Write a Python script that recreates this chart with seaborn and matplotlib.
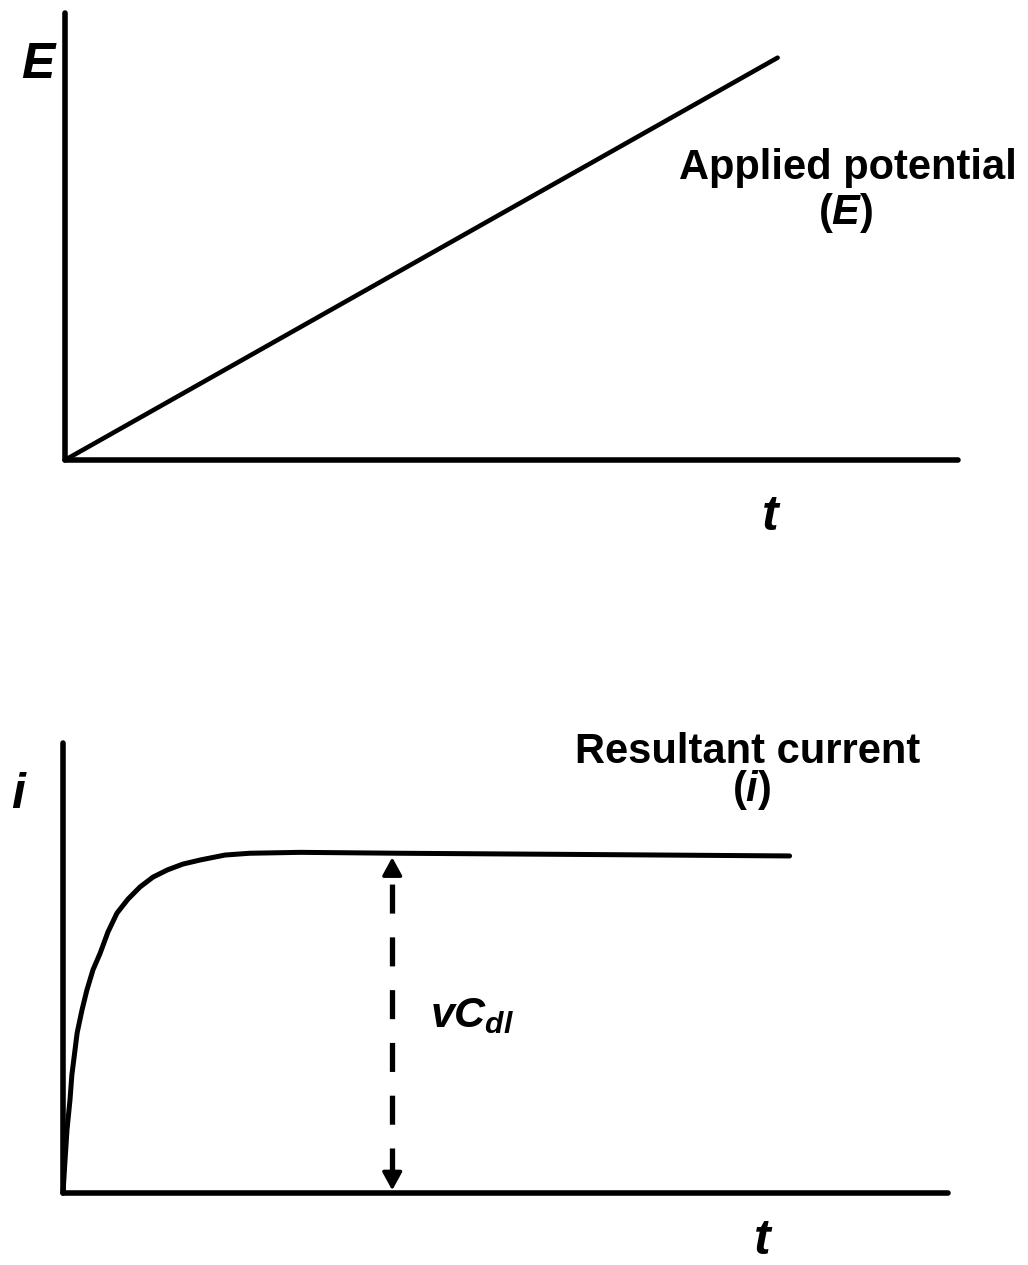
import matplotlib
matplotlib.use("Agg")
import matplotlib.pyplot as plt
import seaborn as sns
import numpy as np
import pandas as pd

# ---- data (normalised schematic units) ----
t_applied = [0.0, 0.798]
E_applied = [0.0, 0.900]

t_current = [0.0, 0.0023, 0.0045, 0.0079, 0.010, 0.016, 0.0215, 0.027, 0.0339,
             0.042, 0.0508, 0.061, 0.0734, 0.087, 0.1017, 0.118, 0.1356,
             0.155, 0.183, 0.211, 0.268, 0.381, 0.607, 0.821]
i_current = [0.0, 0.073, 0.140, 0.207, 0.262, 0.356, 0.407, 0.451, 0.496,
             0.533, 0.580, 0.622, 0.653, 0.680, 0.702, 0.718, 0.731,
             0.740, 0.751, 0.755, 0.757, 0.755, 0.752, 0.749]

arrow_t = [0.372, 0.372]
arrow_i = [0.006, 0.746]

# ---- style ----
sns.set_theme(style="white")
plt.rcParams["font.family"] = ["Liberation Sans", "DejaVu Sans"]
plt.rcParams["mathtext.fontset"] = "custom"
plt.rcParams["mathtext.it"] = "Liberation Sans:italic:bold"
plt.rcParams["mathtext.rm"] = "Liberation Sans:bold"

W, H = 1028, 1265
fig = plt.figure(figsize=(W / 100, H / 100), dpi=100)
fig.patch.set_facecolor("white")


def box(l, r, top, bottom):
    return [l / W, 1 - bottom / H, (r - l) / W, (bottom - top) / H]


ax1 = fig.add_axes(box(65, 958, 13, 460))
ax2 = fig.add_axes(box(63, 948, 743, 1193))

for ax in (ax1, ax2):
    ax.set_xlim(0, 1)
    ax.set_ylim(0, 1)
    ax.set_xticks([])
    ax.set_yticks([])
    ax.set_facecolor("none")
    for s in ("top", "right"):
        ax.spines[s].set_visible(False)
    for s in ("left", "bottom"):
        ax.spines[s].set_linewidth(4.0)
        ax.spines[s].set_color("black")
        ax.spines[s].set_capstyle("round")

df1 = pd.DataFrame({"t": t_applied, "E": E_applied})
sns.lineplot(data=df1, x="t", y="E", ax=ax1, color="black", linewidth=3.3,
             solid_capstyle="round", clip_on=False)

df2 = pd.DataFrame({"t": t_current, "i": i_current})
sns.lineplot(data=df2, x="t", y="i", ax=ax2, color="black", linewidth=3.6,
             solid_capstyle="round", solid_joinstyle="round", clip_on=False)

# dashed double-headed arrow
ax2.plot(arrow_t, [arrow_i[0] + 0.03, arrow_i[1] - 0.03], color="black",
         linewidth=3.8, linestyle=(0, (5.5, 4.5)), dash_capstyle="butt")
for tip, base in ((arrow_i[1], arrow_i[1] - 0.04), (arrow_i[0], arrow_i[0] + 0.04)):
    ax2.annotate("", xy=(arrow_t[0], tip), xytext=(arrow_t[0], base),
                 arrowprops=dict(arrowstyle="-|>,head_length=0.55,head_width=0.3",
                                 color="black", lw=2.5, shrinkA=0, shrinkB=0,
                                 mutation_scale=20))
for ax in (ax1, ax2):
    ax.set_xlabel("")
    ax.set_ylabel("")


def ftext(x, y, s, **kw):
    fig.text(x / W, 1 - y / H, s, **kw)


big = dict(fontsize=36, fontweight="bold", fontstyle="italic", ha="center",
           va="baseline", color="black")
lab = dict(fontsize=30, fontweight="bold", ha="center", va="baseline", color="black")

ftext(38, 78, "E", **big)
ftext(770, 530, "t", **big)
ftext(18, 808, "i", **big)
ftext(762, 1254, "t", **big)

ftext(848, 179, "Applied potential", **lab)
ftext(846, 224, r"($E$)", **lab)
ftext(748, 763, "Resultant current", **lab)
ftext(752, 801, r"($i$)", **lab)

ftext(430, 1027, r"$vC_{dl}$", fontsize=31, ha="left", va="baseline", color="black")

fig.savefig("out.png", dpi=100, facecolor="white")
